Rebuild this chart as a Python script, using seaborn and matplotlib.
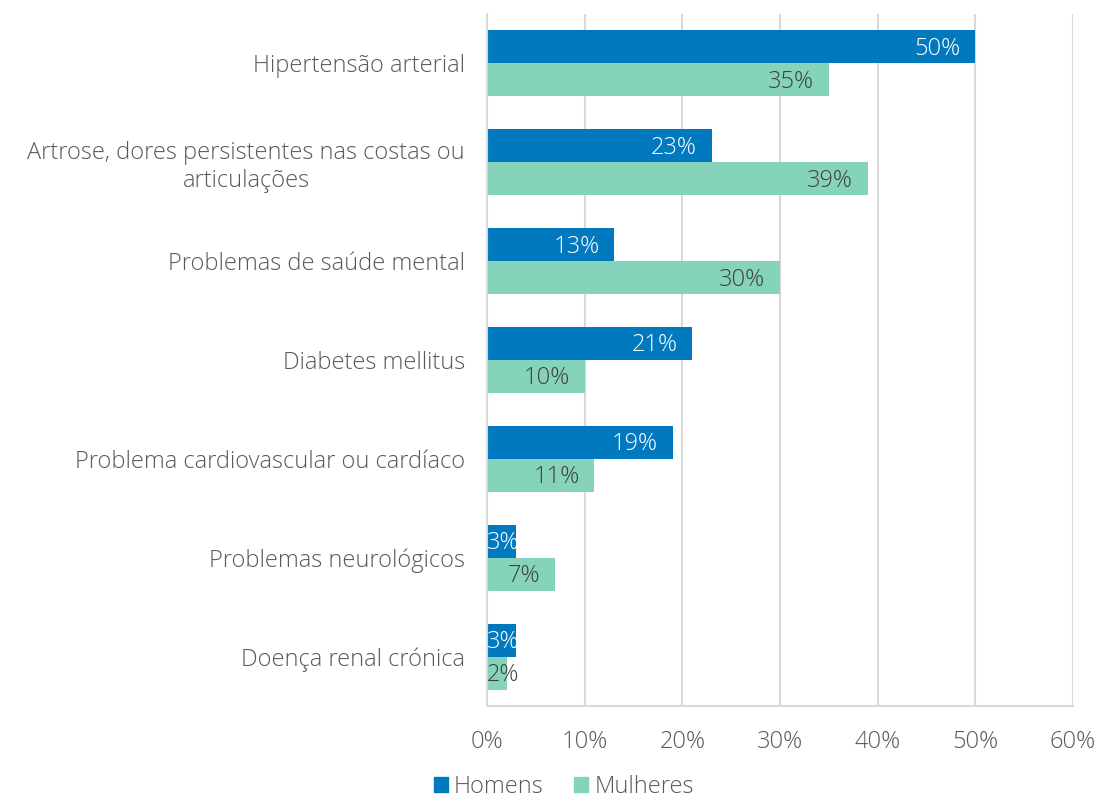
import matplotlib
matplotlib.use("Agg")
import matplotlib.pyplot as plt
import matplotlib.patches as mpatches
import seaborn as sns
import pandas as pd

categories = [
    "Hipertensão arterial",
    "Artrose, dores persistentes nas costas ou\narticulações",
    "Problemas de saúde mental",
    "Diabetes mellitus",
    "Problema cardiovascular ou cardíaco",
    "Problemas neurológicos",
    "Doença renal crónica",
]
homens = [50, 23, 13, 21, 19, 3, 3]
mulheres = [35, 39, 30, 10, 11, 7, 2]
series = ["Homens", "Mulheres"]
colors = {"Homens": "#0079BE", "Mulheres": "#86D3BC"}
label_colors = {"Homens": "white", "Mulheres": "#404040"}
xticks = [0, 10, 20, 30, 40, 50, 60]

df = pd.DataFrame({
    "categoria": categories * 2,
    "valor": homens + mulheres,
    "sexo": ["Homens"] * len(categories) + ["Mulheres"] * len(categories),
})

sns.set_theme(style="white")
plt.rcParams["font.family"] = ["Open Sans", "DejaVu Sans"]
plt.rcParams["font.weight"] = 300
text_color = "#595959"
grid_color = "#D9D9D9"
fs = 17

fig = plt.figure(figsize=(11.01, 7.98), dpi=100)
ax = fig.add_axes([487 / 1101, 1 - 706 / 798, (1073 - 487) / 1101, (706 - 14) / 798])

sns.barplot(data=df, y="categoria", x="valor", hue="sexo", order=categories,
            hue_order=series, palette=colors, orient="h", width=0.667,
            saturation=1, edgecolor="none", linewidth=0, ax=ax, legend=False)

ax.set_xlim(0, 60)
ax.set_ylim(len(categories) - 0.5, -0.5)
ax.set_xticks(xticks)
ax.set_xticklabels([f"{t}%" for t in xticks])
ax.set_xlabel("")
ax.set_ylabel("")
ax.xaxis.grid(True, color=grid_color, linewidth=1.5)
ax.set_axisbelow(True)
for side in ["top", "right"]:
    ax.spines[side].set_visible(False)
ax.spines["left"].set_color(grid_color)
ax.spines["left"].set_linewidth(1.5)
ax.spines["bottom"].set_color(grid_color)
ax.spines["bottom"].set_linewidth(1.5)
ax.tick_params(axis="both", length=0, colors=text_color, labelsize=fs)
ax.tick_params(axis="x", pad=17)
ax.tick_params(axis="y", pad=16)
for lbl in ax.get_yticklabels():
    lbl.set_multialignment("center")
    lbl.set_fontweight(300)
for lbl in ax.get_xticklabels():
    lbl.set_fontweight(300)

# value labels at the inside end of each bar
for name, container in zip(series, ax.containers):
    for bar in container:
        v = bar.get_width()
        yc = bar.get_y() + bar.get_height() / 2 + 0.02
        if v >= 5:
            ax.text(v - 1.5, yc, f"{v:.0f}%", ha="right", va="center",
                    color=label_colors[name], fontsize=fs, fontweight=300)
        else:
            ax.text(0, yc, f"{v:.0f}%", ha="left", va="center",
                    color=label_colors[name], fontsize=fs, fontweight=300)

handles = [mpatches.Patch(color=colors[s], label=s) for s in series]
fig.legend(handles=handles, loc="center", bbox_to_anchor=(0.512, 1 - 787 / 798),
           ncol=2, frameon=False, labelcolor=text_color,
           handlelength=0.6, handleheight=0.6, handletextpad=0.25,
           columnspacing=1.3, borderpad=0.1, prop={"weight": 300, "size": fs})

fig.savefig("out.png", dpi=100)
